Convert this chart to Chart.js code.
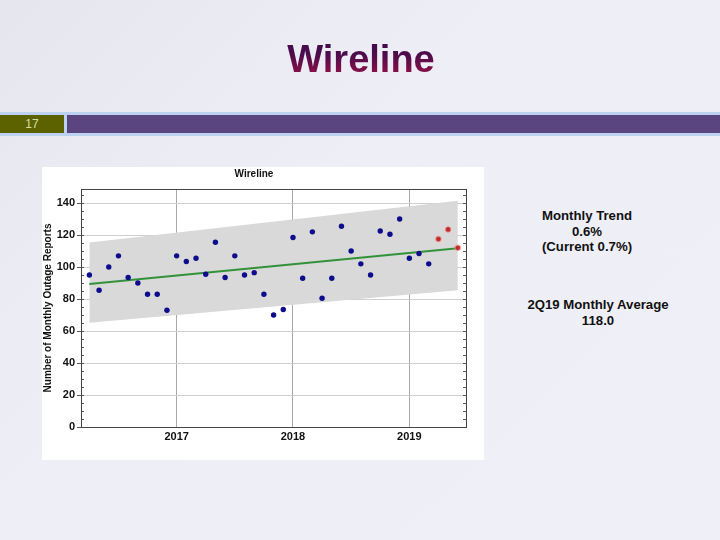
<!DOCTYPE html>
<html>
<head>
<meta charset="utf-8">
<script src="https://cdn.jsdelivr.net/npm/chart.js@4/dist/chart.umd.min.js"></script>
<style>
  html, body { margin:0; padding:0; }
  body { width:720px; height:540px; position:relative; overflow:hidden;
         background: linear-gradient(135deg, #e6e6ee 0%, #eeeef6 40%, #efeff7 100%);
         font-family: "Liberation Sans", Arial, sans-serif; }
  #title { position:absolute; left:1px; top:37px; width:720px; text-align:center; }
  #title span { display:inline-block; font-family:"Liberation Sans",Arial,sans-serif; font-weight:bold;
         font-size:38px; line-height:44px;
         background: linear-gradient(180deg, #3a0c4e 0%, #4e0c4c 40%, #a01244 100%);
         -webkit-background-clip:text; background-clip:text; color:transparent; }
  #strip { position:absolute; left:0; top:112px; width:720px; height:24px; background:#bcd2ee; }
  #num { position:absolute; left:0; top:115px; width:64px; height:18px; background:#5c6200;
         color:#d8dca0; font-size:12px; line-height:18px; text-align:center; }
  #bar { position:absolute; left:67px; top:115px; width:653px; height:18px; background:#5b4580; }
  #chartbox { position:absolute; left:42px; top:167px; width:442px; height:293px; background:#fff; }
  .note { position:absolute; text-align:center; font-size:13.2px; font-weight:bold; line-height:15.5px; color:#111; }
</style>
</head>
<body>
<div id="title"><span>Wireline</span></div>
<div id="strip"></div>
<div id="num">17</div>
<div id="bar"></div>
<div id="chartbox"><canvas id="c" width="442" height="293"></canvas></div>
<div class="note" style="left:497px; top:208px; width:180px;">Monthly Trend<br>0.6%<br>(Current 0.7%)</div>
<div class="note" style="left:498px; top:297px; width:200px;">2Q19 Monthly Average<br>118.0</div>
<script>
// ---- data ----
const histMonths = ["2016-04","2016-05","2016-06","2016-07","2016-08","2016-09","2016-10","2016-11","2016-12",
  "2017-01","2017-02","2017-03","2017-04","2017-05","2017-06","2017-07","2017-08","2017-09","2017-10","2017-11","2017-12",
  "2018-01","2018-02","2018-03","2018-04","2018-05","2018-06","2018-07","2018-08","2018-09","2018-10","2018-11","2018-12",
  "2019-01","2019-02","2019-03"];
const histReports = [95,85.5,100,107,93.5,90,83,83,73,
  107,103.5,105.5,95.5,115.5,93.5,107,95,96.5,83,70,73.5,
  118.5,93,122,80.5,93,125.5,110,102,95,122.5,120.5,130,
  105.5,108.5,102];
const recentMonths = ["2019-04","2019-05","2019-06"];
const recentReports = [117.5,123.5,112];
const trendMonths = ["2016-04","2019-06"];
const trendValues = [89.4,111.8];
const bandUpper = [115.3,141.5];
const bandLower = [65.2,85.5];
const yearTicks = [2017,2018,2019];
const yTicks = [0,20,40,60,80,100,120,140];

const toX = s => { const [y,m] = s.split("-").map(Number); return y + (m-1)/12; };
const pts = (ms, vs) => ms.map((m,i) => ({x: toX(m), y: vs[i]}));

const frame = {
  id:'frame',
  afterDatasetsDraw(chart){
    const {ctx, chartArea:a, scales:{y}} = chart;
    ctx.save();
    ctx.strokeStyle = '#555';
    ctx.lineWidth = 1;
    ctx.beginPath();
    for (let v = 0; v <= 145; v += 5) {
      const py = Math.round(y.getPixelForValue(v)) + 0.5;
      ctx.moveTo(a.left, py); ctx.lineTo(a.left + 3, py);
      ctx.moveTo(a.right, py); ctx.lineTo(a.right - 3, py);
    }
    ctx.stroke();
    ctx.strokeStyle = '#444';
    ctx.strokeRect(Math.round(a.left)+0.5, Math.round(a.top)+0.5, Math.round(a.right-a.left), Math.round(a.bottom-a.top));
    ctx.restore();
  }
};

new Chart(document.getElementById('c'), {
  type:'scatter',
  data:{ datasets:[
    {label:'upper', data: pts(trendMonths, bandUpper), showLine:true, pointRadius:0, borderWidth:0,
     borderColor:'rgba(0,0,0,0)', backgroundColor:'#d9d9d9', fill:'+1', order:5},
    {label:'lower', data: pts(trendMonths, bandLower), showLine:true, pointRadius:0, borderWidth:0,
     borderColor:'rgba(0,0,0,0)', fill:false, order:5},
    {label:'trend', data: pts(trendMonths, trendValues), showLine:true, pointRadius:0, borderWidth:2,
     borderColor:'#33913a', fill:false, order:3},
    {label:'history', data: pts(histMonths, histReports), pointRadius:2.7, pointBorderWidth:0,
     backgroundColor:'#0c0c8c', order:1},
    {label:'recent', data: pts(recentMonths, recentReports), pointRadius:2.7, pointBorderWidth:1.2,
     backgroundColor:'#c02a2a', pointBorderColor:'rgba(240,150,150,0.6)', order:1}
  ]},
  options:{
    responsive:false, animation:false, devicePixelRatio:1,
    layout:{padding:{left:0, right:18, top:1, bottom:0}},
    plugins:{
      legend:{display:false}, tooltip:{enabled:false},
      title:{display:true, text:'Wireline', color:'#111', font:{family:'Liberation Sans', size:10, weight:'bold'},
             padding:{top:0, bottom:9}}
    },
    scales:{
      x:{type:'linear', min:2016.178, max:2019.487,
         afterBuildTicks: s => { s.ticks = yearTicks.map(v => ({value:v})); },
         afterFit: s => { s.height = 33; },
         ticks:{color:'#111', font:{family:'Liberation Sans', size:11, weight:'bold'}, padding:3,
                callback: v => String(v)},
         grid:{color:'#a8a8a8', tickLength:0, drawTicks:false},
         border:{display:false}},
      y:{min:0, max:148.8,
         afterBuildTicks: s => { s.ticks = yTicks.map(v => ({value:v})); },
         afterFit: s => { s.width = 39; },
         ticks:{color:'#111', font:{family:'Liberation Sans', size:11, weight:'bold'}, padding:2},
         grid:{color:'#cfcfcf', tickLength:4, tickColor:'#555'},
         border:{display:false},
         title:{display:true, text:'Number of Monthly Outage Reports', color:'#111',
                font:{family:'Liberation Sans', size:10, weight:'bold'}, padding:{top:0,bottom:0}}}
    }
  },
  plugins:[frame]
});
</script>
</body>
</html>
